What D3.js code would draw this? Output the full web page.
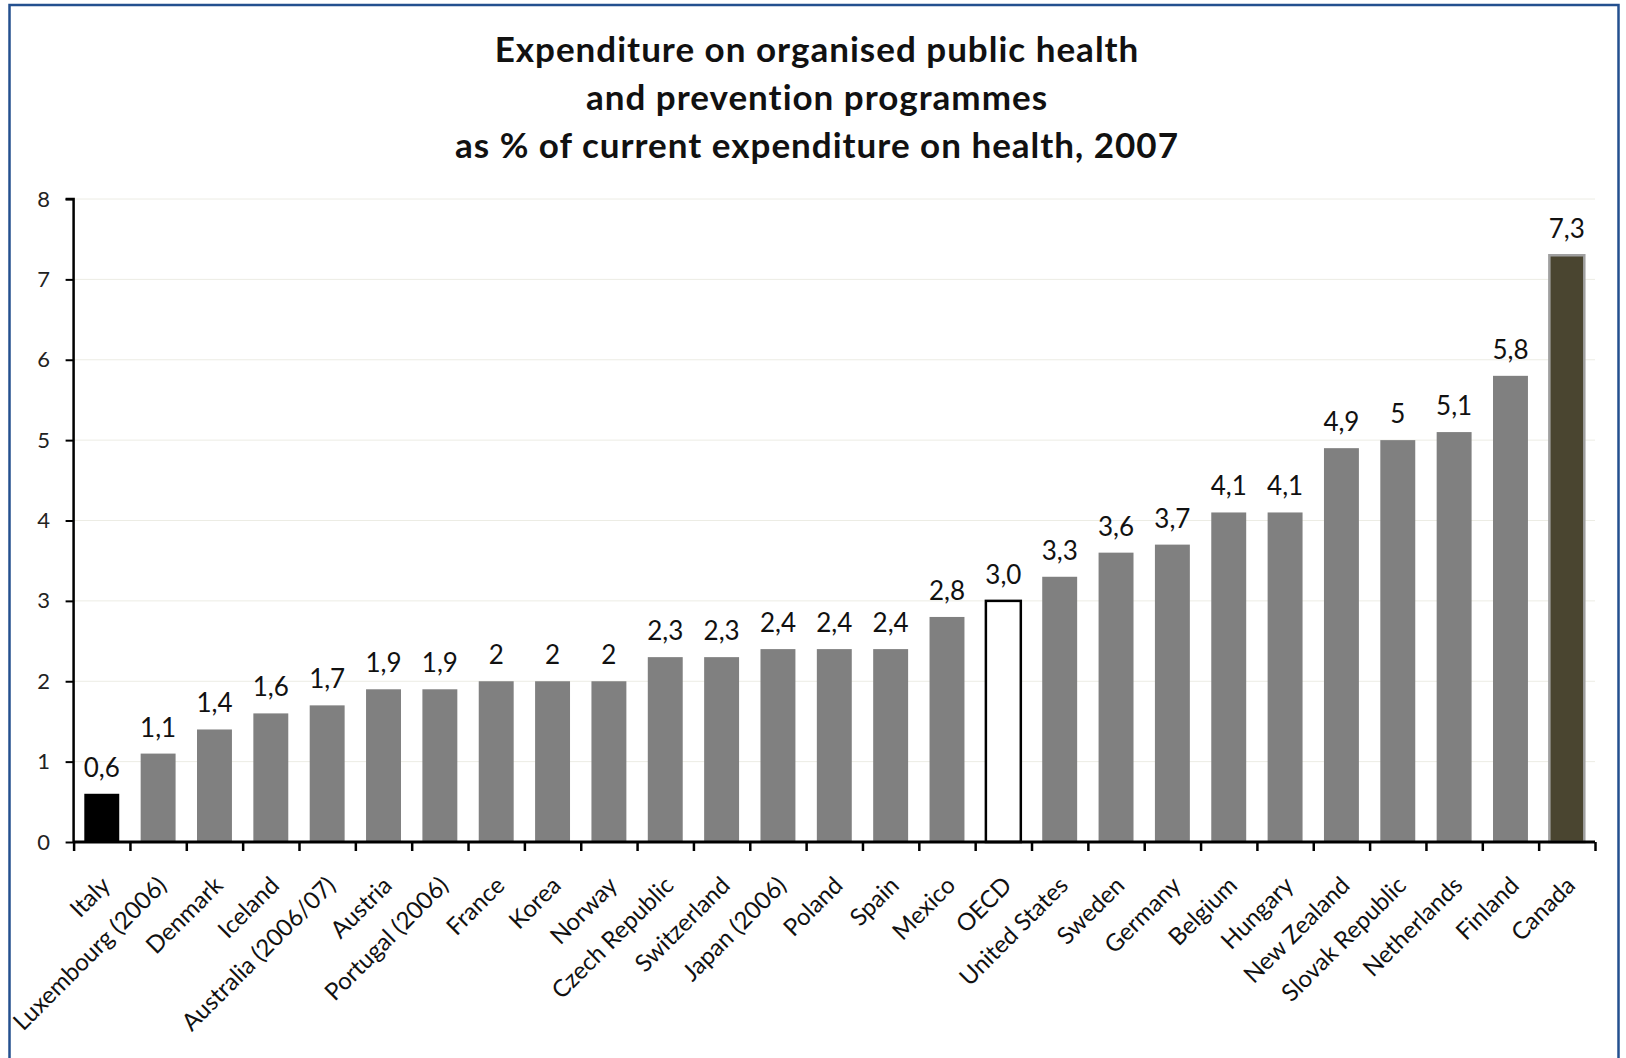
<!DOCTYPE html>
<html><head><meta charset="utf-8">
<script src="https://cdn.jsdelivr.net/npm/d3@7"></script>
<style>
html,body{margin:0;padding:0;background:#fff;}
svg{display:block;font-family:Lato,"Open Sans",sans-serif;}
</style></head>
<body>
<svg id="c" width="1626" height="1058"></svg>
<script>
const categories = ["Italy","Luxembourg (2006)","Denmark","Iceland","Australia (2006/07)","Austria","Portugal (2006)","France","Korea","Norway","Czech Republic","Switzerland","Japan (2006)","Poland","Spain","Mexico","OECD","United States","Sweden","Germany","Belgium","Hungary","New Zealand","Slovak Republic","Netherlands","Finland","Canada"];
const values = [0.6,1.1,1.4,1.6,1.7,1.9,1.9,2,2,2,2.3,2.3,2.4,2.4,2.4,2.8,3.0,3.3,3.6,3.7,4.1,4.1,4.9,5,5.1,5.8,7.3];
const valueLabels = ["0,6","1,1","1,4","1,6","1,7","1,9","1,9","2","2","2","2,3","2,3","2,4","2,4","2,4","2,8","3,0","3,3","3,6","3,7","4,1","4,1","4,9","5","5,1","5,8","7,3"];
const yTicks = [0,1,2,3,4,5,6,7,8];
const titleLines = ["Expenditure on organised public health","and prevention programmes","as % of current expenditure on health, 2007"];

const svg = d3.select("#c");
const L = 73.6, R = 1595, T = 199, B = 842;

// border
svg.append("rect").attr("x",9.5).attr("y",5).attr("width",1609).attr("height",1070)
  .attr("fill","none").attr("stroke","#24508F").attr("stroke-width",2.5);

// title
svg.append("g").selectAll("text").data(titleLines).join("text")
  .attr("x",817).attr("y",(d,i)=>62+i*48).attr("text-anchor","middle")
  .attr("font-weight","bold").attr("font-size",35).attr("letter-spacing",1)
  .attr("fill","#111").text(d=>d);

const x = d3.scaleBand().domain(categories).range([L,R]).paddingInner(0.38).paddingOuter(0.19);
const y = d3.scaleLinear().domain([0,8]).range([B,T]);

// gridlines
svg.append("g").selectAll("line").data(yTicks.filter(d=>d>0)).join("line")
  .attr("x1",L).attr("x2",R).attr("y1",d=>y(d)).attr("y2",d=>y(d))
  .attr("stroke","#ECECE4").attr("stroke-width",1);

// bars
const fillOf = c => c==="Italy" ? "#000" : c==="OECD" ? "#fff" : c==="Canada" ? "#4A4530" : "#808080";
svg.append("g").selectAll("rect").data(categories).join("rect")
  .attr("x",(d)=>x(d)).attr("width",x.bandwidth())
  .attr("y",(d,i)=>y(values[i])).attr("height",(d,i)=>B-y(values[i]))
  .attr("fill",fillOf)
  .attr("stroke",d=> d==="OECD" ? "#000" : d==="Canada" ? "#A0A0A0" : "none")
  .attr("stroke-width",2.5);

// value labels
svg.append("g").selectAll("text").data(categories).join("text")
  .attr("x",d=>x(d)+x.bandwidth()/2).attr("y",(d,i)=>y(values[i])-17)
  .attr("text-anchor","middle").attr("font-size",26).attr("fill","#111")
  .text((d,i)=>valueLabels[i]);

// y axis
const ya = svg.append("g").attr("transform",`translate(${L},0)`)
  .call(d3.axisLeft(y).tickValues(yTicks).tickSize(8).tickPadding(22).tickFormat(d=>d));
ya.select(".domain").attr("stroke","#000").attr("stroke-width",2.5).attr("d",`M-8,${T}H0V${B}`);
ya.selectAll(".tick line").attr("stroke","#000").attr("stroke-width",2);
ya.selectAll(".tick text").attr("font-size",22).attr("fill","#222").attr("text-anchor","middle")
  .attr("font-family","Lato,sans-serif");

// x axis boundary ticks
const xb = d3.scaleLinear().domain([0,categories.length]).range([L,R]);
const xa = svg.append("g").attr("transform",`translate(0,${B})`)
  .call(d3.axisBottom(xb).tickValues(d3.range(categories.length+1)).tickSize(9).tickFormat(""));
xa.select(".domain").attr("stroke","#000").attr("stroke-width",3).attr("d",`M${L},0H${R}`);
xa.selectAll(".tick line").attr("stroke","#000").attr("stroke-width",2.5);

// category labels
const xl = svg.append("g").attr("transform",`translate(0,${B})`)
  .call(d3.axisBottom(x).tickSize(0).tickPadding(0));
xl.select(".domain").remove();
xl.selectAll(".tick text")
  .attr("font-size",24).attr("fill","#111").attr("font-family","Lato,sans-serif")
  .attr("text-anchor","end").attr("dy","0.35em")
  .attr("transform","translate(4,39) rotate(-45)");
</script>
</body></html>
